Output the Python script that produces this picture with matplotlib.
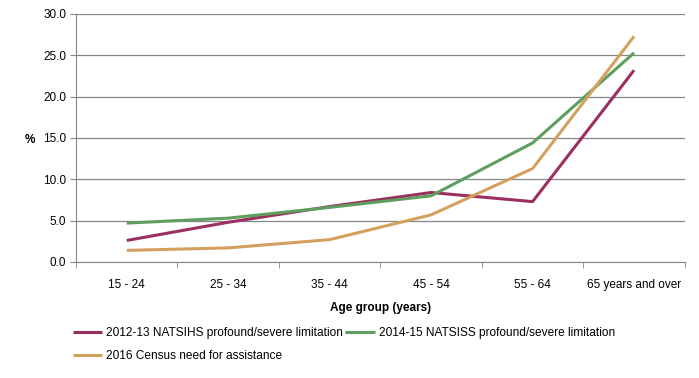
import matplotlib.pyplot as plt
from matplotlib.ticker import FixedLocator

plt.rcParams['font.family'] = ['Liberation Sans', 'DejaVu Sans']

age_groups = ['15 - 24', '25 - 34', '35 - 44', '45 - 54', '55 - 64', '65 years and over']
natsihs_2012 = [2.6, 4.8, 6.7, 8.4, 7.3, 23.2]
natsiss_2014 = [4.7, 5.3, 6.6, 8.0, 14.4, 25.3]
census_2016 = [1.4, 1.7, 2.7, 5.7, 11.3, 27.3]

series_names = ['2012-13 NATSIHS profound/severe limitation',
                '2014-15 NATSISS profound/severe limitation',
                '2016 Census need for assistance']
colors = ['#9B2F5F', '#5E9E5E', '#D4A05E']

fig = plt.figure(figsize=(6.99, 3.78), dpi=100)
ax = fig.add_axes([0.1087, 0.307, 0.871, 0.656])

x = list(range(len(age_groups)))
lines = []
for vals, name, c in zip([natsihs_2012, natsiss_2014, census_2016], series_names, colors):
    ln, = ax.plot(x, vals, color=c, lw=2.2, label=name, solid_capstyle='butt')
    lines.append(ln)

ax.set_xlim(-0.5, len(age_groups) - 0.5)
ax.set_ylim(0, 30)
ax.set_yticks([0, 5, 10, 15, 20, 25, 30])
ax.set_yticklabels(['%.1f' % v for v in [0, 5, 10, 15, 20, 25, 30]], fontsize=8.5)
ax.yaxis.grid(True, color='#868686', lw=0.9)
ax.set_axisbelow(True)

ax.set_xticks(x)
ax.set_xticklabels(age_groups, fontsize=8.5)
ax.tick_params(axis='x', which='major', length=0, pad=12)
ax.xaxis.set_minor_locator(FixedLocator([i - 0.5 for i in range(len(age_groups) + 1)]))
ax.tick_params(axis='x', which='minor', length=4, color='#868686')
ax.tick_params(axis='y', length=4, color='#868686', pad=3)

for s in ['top', 'right']:
    ax.spines[s].set_visible(False)
ax.spines['left'].set_color('#868686')
ax.spines['bottom'].set_color('#868686')

ax.set_xlabel('Age group (years)', fontsize=8.5, fontweight='bold', labelpad=8)
fig.text(0.043, 0.63, '%', fontsize=8.5, fontweight='bold', ha='center', va='center')

# legend fills row by row in the original
order = [lines[0], lines[2], lines[1]]
fig.legend(order, [l.get_label() for l in order],
           loc='upper left', bbox_to_anchor=(0.097, 0.148), ncol=2, frameon=False,
           fontsize=8.6, handlelength=2.5, handletextpad=0.3, columnspacing=0.2,
           labelspacing=0.95, borderaxespad=0)

fig.savefig('out.png', dpi=100)
